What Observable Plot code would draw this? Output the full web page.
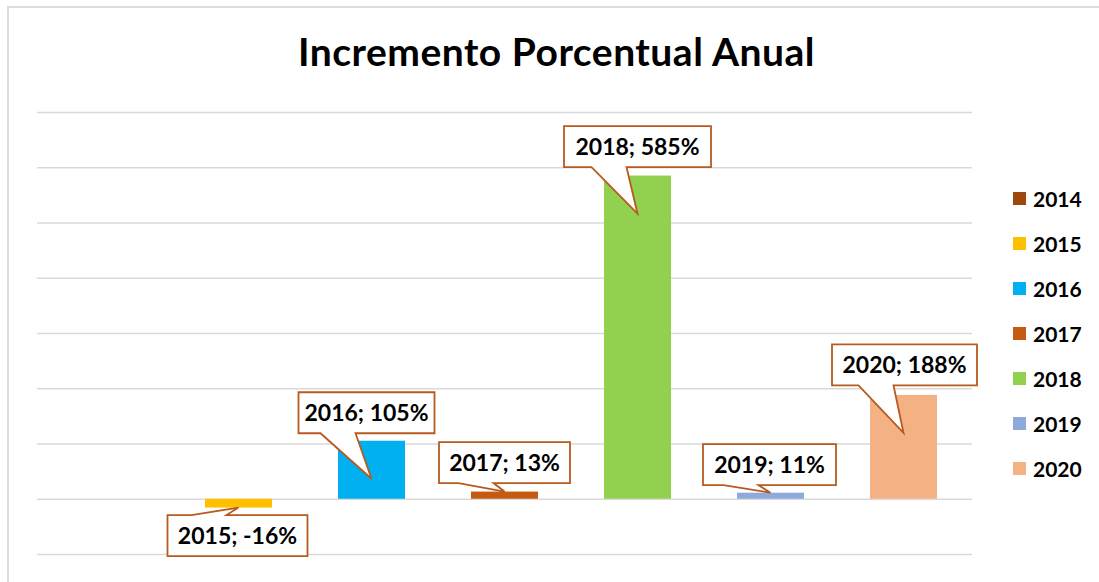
<!DOCTYPE html>
<html>
<head>
<meta charset="utf-8">
<script src="https://cdn.jsdelivr.net/npm/d3@7"></script>
<script src="https://cdn.jsdelivr.net/npm/@observablehq/plot@0.6"></script>
<style>
  html, body { margin: 0; padding: 0; background: #fff; overflow: hidden; }
  #wrap { position: relative; width: 1099px; height: 582px; overflow: hidden; font-family: Lato, "Open Sans", sans-serif; }
  #frame { position: absolute; left: 7px; top: 6px; width: 1200px; height: 700px; border: 2px solid #dedede; box-sizing: border-box; }
  #title { position: relative; height: 96px; box-sizing: border-box; padding: 29px 0 0 14px; text-align: center;
           font-weight: 700; font-size: 39px; letter-spacing: 0.5px; line-height: 44px; color: #000; }
  #chart { position: relative; display: block; }
  #legend { position: absolute; left: 1013px; top: 176px; }
  .item { height: 45px; display: flex; align-items: center; font-weight: 700; font-size: 21px; color: #000; }
  .sw { width: 13px; height: 13px; margin-right: 7px; }
</style>
</head>
<body>
<div id="wrap">
  <div id="frame"></div>
  <div id="title">Incremento Porcentual Anual</div>
  <div id="chart"></div>
  <div id="legend"></div>
</div>
<script>
// Annual percentage increase by year
const years  = ["2014", "2015", "2016", "2017", "2018", "2019", "2020"];
const values = [0, -16, 105, 13, 585, 11, 188];
const colors = ["#9E480E", "#FFC000", "#00B0F0", "#C55A11", "#92D050", "#8EA9DB", "#F4B183"];
const labels = [null, "2015; -16%", "2016; 105%", "2017; 13%", "2018; 585%", "2019; 11%", "2020; 188%"];
const gridValues = [-100, 0, 100, 200, 300, 400, 500, 600, 700];

// Callout placement (pixels, relative to the bar end)
const boxDy  = [null, 28, -28, -29, -29, -28, -30];
const boxDx  = [null, -1, -5, 0, 0, -1, 1];
const tipDy  = [null, 0, 38, 0, 38, 0, 38];
const boxW   = [null, 140, 136, 131, 147, 133, 145];
const boxH = 41;
const stemOffsets = [-46, -11];

const rows = years.map((year, i) => ({
  year, value: values[i], label: labels[i],
  boxDy: boxDy[i], boxDx: boxDx[i], tipDy: tipDy[i], boxW: boxW[i]
}));

// Speech-bubble labels drawn from the x/y scales
function callouts(index, scales) {
  const g = d3.create("svg:g");
  const bw = scales.x.bandwidth ? scales.x.bandwidth() : 0;
  for (const d of rows) {
    if (d.label == null) continue;
    const bx = scales.x(d.year) + bw / 2;
    const by = scales.y(d.value);
    const tx = bx, ty = by + d.tipDy;
    const cx = bx + d.boxDx, cy = by + d.boxDy;
    const L = cx - d.boxW / 2, R = cx + d.boxW / 2, T = cy - boxH / 2, B = cy + boxH / 2;
    const s1 = cx + stemOffsets[0], s2 = cx + stemOffsets[1];
    let p;
    if (cy < ty) {
      p = `M${L},${T}H${R}V${B}H${s2}L${tx},${ty}L${s1},${B}H${L}Z`;
    } else {
      p = `M${L},${T}H${s1}L${tx},${ty}L${s2},${T}H${R}V${B}H${L}Z`;
    }
    g.append("path").attr("d", p).attr("fill", "#fff")
      .attr("stroke", "#B85A1E").attr("stroke-width", 1.8).attr("stroke-linejoin", "miter");
    g.append("text").attr("x", cx).attr("y", cy).attr("dy", "0.36em")
      .attr("text-anchor", "middle").attr("font-family", "Lato, sans-serif")
      .attr("font-weight", 700).attr("font-size", 23).attr("fill", "#000").text(d.label);
  }
  return g.node();
}

const chart = Plot.plot({
  width: 1099,
  height: 486,
  marginTop: 16,
  marginBottom: 28,
  marginLeft: 37,
  marginRight: 127,
  x: { domain: years, paddingInner: 0.5, paddingOuter: 0.25, axis: null },
  y: { domain: [-100, 700], axis: null },
  color: { domain: years, range: colors },
  style: { background: "transparent", overflow: "visible" },
  marks: [
    Plot.ruleY(gridValues, { stroke: "#d9d9d9", strokeWidth: 1.6 }),
    Plot.barY(rows, { x: "year", y: "value", fill: "year" }),
    callouts
  ]
});
document.getElementById("chart").appendChild(chart);

const legend = d3.select("#legend");
years.forEach((y, i) => {
  const item = legend.append("div").attr("class", "item");
  item.append("div").attr("class", "sw").style("background", colors[i]);
  item.append("span").text(y);
});
</script>
</body>
</html>
